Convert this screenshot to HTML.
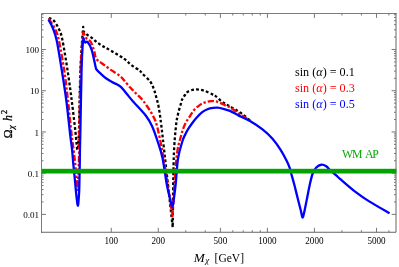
<!DOCTYPE html>
<html><head><meta charset="utf-8"><title>Relic density</title>
<style>
html,body{margin:0;padding:0;background:#fff;}
body{width:399px;height:267px;overflow:hidden;}
svg{display:block;font-family:"Liberation Serif",serif;will-change:transform;}
</style></head>
<body>
<svg width="399" height="267" viewBox="0 0 399 267">
<rect width="399" height="267" fill="#fff"/>
<g fill="none" stroke-linejoin="round">
<path d="M48.75,18.00 C49.58,18.43 52.08,18.81 53.75,20.60 C55.42,22.39 57.33,25.62 58.75,28.75 C60.17,31.88 60.79,32.19 62.30,39.40 C63.81,46.61 66.20,61.57 67.80,72.00 C69.40,82.43 70.63,92.08 71.90,102.00 C73.17,111.92 74.57,124.00 75.40,131.50 C76.23,139.00 76.52,143.92 76.90,147.00 C77.28,150.08 77.57,149.50 77.70,150.00 C77.90,147.17 78.58,141.33 78.90,133.00 C79.22,124.67 79.35,110.50 79.60,100.00 C79.85,89.50 80.03,79.17 80.40,70.00 C80.77,60.83 81.33,52.18 81.80,45.00 C82.27,37.82 82.97,29.92 83.20,26.90 C83.22,27.58 82.66,29.70 83.30,31.00 C83.94,32.30 85.68,33.60 87.05,34.70 C88.42,35.80 90.19,36.62 91.50,37.60 C92.81,38.58 93.72,39.63 94.90,40.60 C96.08,41.57 97.27,42.47 98.60,43.40 C99.93,44.33 101.40,45.30 102.90,46.20 C104.40,47.10 104.12,46.75 107.60,48.80 C111.07,50.85 119.81,55.80 123.75,58.50 C127.69,61.20 128.56,62.95 131.25,65.00 C133.94,67.05 138.03,69.34 139.90,70.80 C141.78,72.26 140.82,72.01 142.50,73.75 C144.18,75.49 148.12,78.75 150.00,81.25 C151.88,83.75 152.75,86.26 153.75,88.75 C154.75,91.24 155.17,93.08 156.00,96.20 C156.83,99.33 157.88,102.70 158.75,107.50 C159.62,112.30 160.21,116.58 161.25,125.00 C162.29,133.42 163.09,140.97 165.00,158.00 C166.91,175.03 171.42,215.67 172.70,227.20 C172.88,215.67 173.20,174.87 173.75,158.00 C174.30,141.13 175.28,133.38 176.00,126.00 C176.72,118.62 177.22,117.67 178.10,113.75 C178.97,109.83 180.52,105.00 181.25,102.50 C181.98,100.00 181.88,100.00 182.50,98.75 C183.12,97.50 184.17,96.14 185.00,95.00 C185.83,93.86 185.83,92.83 187.50,91.90 C189.17,90.97 192.29,89.62 195.00,89.40 C197.71,89.18 200.83,89.77 203.75,90.60 C206.67,91.43 210.62,93.57 212.50,94.40 C214.38,95.23 213.57,94.50 215.00,95.60 C216.43,96.70 219.33,99.62 221.10,101.00 C222.87,102.38 224.20,103.03 225.60,103.90 C227.00,104.77 227.93,105.30 229.50,106.20 C231.07,107.10 232.83,107.95 235.00,109.30 C237.17,110.65 240.00,112.45 242.50,114.30 C245.00,116.15 248.75,119.38 250.00,120.40" stroke="#000" stroke-width="2.3" stroke-dasharray="2.8 2.2"/>
<path d="M48.75,18.50 C49.89,20.42 53.91,26.33 55.60,30.00 C57.29,33.67 57.43,33.58 58.90,40.50 C60.37,47.42 62.87,61.33 64.40,71.50 C65.93,81.67 66.95,91.42 68.10,101.50 C69.25,111.58 70.15,122.00 71.30,132.00 C72.45,142.00 73.95,151.83 75.00,161.50 C76.05,171.17 77.17,185.25 77.60,190.00 C77.80,185.83 78.52,174.50 78.80,165.00 C79.08,155.50 79.12,143.83 79.30,133.00 C79.48,122.17 79.68,110.50 79.90,100.00 C80.12,89.50 80.25,79.17 80.60,70.00 C80.95,60.83 81.55,51.28 82.00,45.00 C82.45,38.72 83.08,34.42 83.30,32.30 C83.50,32.75 84.03,34.05 84.50,35.00 C84.97,35.95 85.47,37.23 86.10,38.00 C86.73,38.77 87.52,38.97 88.30,39.60 C89.08,40.23 90.08,40.68 90.80,41.80 C91.52,42.92 92.00,44.62 92.60,46.30 C93.20,47.98 93.79,49.82 94.40,51.90 C95.01,53.98 94.90,56.77 96.25,58.75 C97.60,60.73 100.12,61.94 102.50,63.75 C104.88,65.56 107.58,67.56 110.50,69.60 C113.42,71.64 117.75,74.22 120.00,76.00 C122.25,77.78 122.33,78.42 124.00,80.30 C125.67,82.18 128.50,85.63 130.00,87.30 C131.50,88.97 131.97,89.23 133.00,90.30 C134.03,91.37 135.15,92.65 136.20,93.70 C137.25,94.75 138.38,95.73 139.30,96.60 C140.22,97.47 140.54,97.50 141.70,98.90 C142.86,100.30 144.45,102.32 146.25,105.00 C148.05,107.68 150.71,111.50 152.50,115.00 C154.29,118.50 155.17,118.83 157.00,126.00 C158.83,133.17 160.92,143.00 163.50,158.00 C166.08,173.00 171.00,206.33 172.50,216.00 C173.17,206.33 175.08,171.33 176.50,158.00 C177.92,144.67 179.58,141.63 181.00,136.00 C182.42,130.37 183.58,127.38 185.00,124.20 C186.42,121.02 188.00,119.25 189.50,116.90 C191.00,114.55 192.30,112.07 194.00,110.10 C195.70,108.13 197.82,106.40 199.70,105.10 C201.58,103.80 203.43,102.97 205.30,102.30 C207.17,101.63 209.22,101.25 210.90,101.10 C212.58,100.95 213.88,101.12 215.40,101.40 C216.92,101.68 218.30,102.10 220.00,102.80 C221.70,103.50 223.93,104.85 225.60,105.60 C227.27,106.35 228.02,106.15 230.00,107.30 C231.98,108.45 234.17,110.28 237.50,112.50 C240.83,114.72 247.92,119.25 250.00,120.60" stroke="#ff0000" stroke-width="2.3" stroke-dasharray="6.3 2 2.4 2"/>
<path d="M48.50,19.75 C49.18,21.04 51.23,24.04 52.60,27.50 C53.97,30.96 55.13,33.17 56.70,40.50 C58.27,47.83 60.38,61.42 62.00,71.50 C63.62,81.58 65.07,90.75 66.40,101.00 C67.73,111.25 69.05,124.83 70.00,133.00 C70.95,141.17 71.53,144.67 72.10,150.00 C72.67,155.33 72.93,160.00 73.40,165.00 C73.87,170.00 74.47,175.50 74.90,180.00 C75.33,184.50 75.67,188.67 76.00,192.00 C76.33,195.33 76.65,197.90 76.90,200.00 C77.15,202.10 77.34,203.63 77.50,204.60 C77.66,205.57 77.73,205.80 77.85,205.80 C77.97,205.80 78.08,205.57 78.20,204.60 C78.33,203.63 78.44,202.10 78.60,200.00 C78.76,197.90 79.01,195.33 79.15,192.00 C79.29,188.67 79.35,184.50 79.45,180.00 C79.55,175.50 79.67,170.00 79.75,165.00 C79.83,160.00 79.85,155.33 79.95,150.00 C80.05,144.67 80.18,141.33 80.35,133.00 C80.52,124.67 80.75,110.50 80.95,100.00 C81.15,89.50 81.28,79.00 81.55,70.00 C81.82,61.00 82.27,51.32 82.60,46.00 C82.92,40.68 83.35,39.42 83.50,38.10 C83.75,38.83 84.33,41.87 85.00,42.50 C85.67,43.13 86.42,40.77 87.50,41.90 C88.58,43.03 90.35,46.07 91.50,49.30 C92.65,52.52 93.73,58.38 94.40,61.25 C95.07,64.12 95.22,65.21 95.50,66.50 C95.78,67.79 96.00,68.58 96.10,69.00 C96.35,69.30 96.93,70.10 97.60,70.80 C98.27,71.50 98.77,72.00 100.10,73.20 C101.43,74.40 103.62,76.53 105.60,78.00 C107.58,79.47 110.15,80.95 112.00,82.00 C113.85,83.05 115.28,83.52 116.70,84.30 C118.12,85.08 119.33,85.75 120.50,86.70 C121.67,87.65 122.53,88.65 123.70,90.00 C124.87,91.35 125.93,92.87 127.50,94.80 C129.07,96.73 131.43,99.69 133.10,101.60 C134.77,103.51 135.31,103.81 137.50,106.25 C139.69,108.69 143.83,112.96 146.25,116.25 C148.67,119.54 150.12,121.88 152.00,126.00 C153.88,130.12 155.75,135.67 157.50,141.00 C159.25,146.33 160.93,150.67 162.50,158.00 C164.07,165.33 165.55,177.83 166.90,185.00 C168.25,192.17 169.78,197.50 170.60,201.00 C171.42,204.50 171.53,204.98 171.80,206.00 C172.08,207.02 172.10,207.10 172.25,207.10 C172.40,207.10 172.47,207.02 172.70,206.00 C172.92,204.98 173.12,204.50 173.60,201.00 C174.08,197.50 174.85,192.17 175.60,185.00 C176.35,177.83 176.95,165.33 178.10,158.00 C179.25,150.67 181.27,145.00 182.50,141.00 C183.73,137.00 184.52,136.05 185.50,134.00 C186.48,131.95 187.35,130.42 188.40,128.70 C189.45,126.98 190.48,125.48 191.80,123.70 C193.12,121.92 194.62,119.88 196.30,118.00 C197.98,116.12 200.03,113.87 201.90,112.40 C203.77,110.93 205.62,109.95 207.50,109.20 C209.38,108.45 211.50,108.15 213.20,107.90 C214.90,107.65 216.02,107.55 217.70,107.70 C219.38,107.85 221.25,108.27 223.30,108.80 C225.35,109.33 227.43,109.77 230.00,110.90 C232.57,112.03 235.42,113.92 238.75,115.60 C242.08,117.28 246.04,118.70 250.00,121.00 C253.96,123.30 258.75,126.45 262.50,129.40 C266.25,132.35 269.53,135.37 272.50,138.70 C275.47,142.03 277.90,145.64 280.30,149.40 C282.70,153.16 285.28,158.03 286.90,161.25 C288.52,164.47 289.27,166.67 290.00,168.75 C290.73,170.83 290.52,171.04 291.25,173.75 C291.98,176.46 293.36,181.04 294.40,185.00 C295.44,188.96 296.45,193.33 297.50,197.50 C298.55,201.67 299.95,206.88 300.70,210.00 C301.45,213.12 301.68,214.92 302.00,216.20 C302.32,217.48 302.38,217.70 302.60,217.70 C302.82,217.70 302.95,217.48 303.30,216.20 C303.65,214.92 304.05,213.12 304.70,210.00 C305.35,206.88 306.37,201.67 307.20,197.50 C308.03,193.33 308.80,188.96 309.70,185.00 C310.60,181.04 311.51,176.67 312.60,173.75 C313.69,170.83 314.81,169.00 316.25,167.50 C317.69,166.00 319.58,164.96 321.25,164.75 C322.92,164.54 324.79,165.38 326.25,166.25 C327.71,167.12 328.33,168.47 330.00,170.00 C331.67,171.53 334.58,173.93 336.25,175.40 C337.92,176.87 336.91,176.15 340.00,178.80 C343.09,181.45 349.87,187.50 354.80,191.30 C359.73,195.10 363.80,197.95 369.60,201.60 C375.40,205.25 386.27,211.27 389.60,213.20" stroke="#0000ff" stroke-width="2.3"/>
</g>
<g fill="none" stroke="#7c7c7c" stroke-width="1">
<path d="M41.5,232.75V13.5H396.5"/><path d="M41.0,232.25H396.0V13.0" stroke="#666666"/>
<path d="M111.25,232.25L111.25,227.85M111.25,13.50L111.25,17.90M158.26,232.25L158.26,227.85M158.26,13.50L158.26,17.90M185.75,232.25L185.75,230.25M185.75,13.50L185.75,15.50M205.26,232.25L205.26,230.25M205.26,13.50L205.26,15.50M220.39,232.25L220.39,227.85M220.39,13.50L220.39,17.90M232.76,232.25L232.76,230.25M232.76,13.50L232.76,15.50M243.21,232.25L243.21,230.25M243.21,13.50L243.21,15.50M252.27,232.25L252.27,230.25M252.27,13.50L252.27,15.50M260.25,232.25L260.25,230.25M260.25,13.50L260.25,15.50M267.40,232.25L267.40,227.85M267.40,13.50L267.40,17.90M314.41,232.25L314.41,227.85M314.41,13.50L314.41,17.90M341.90,232.25L341.90,230.25M341.90,13.50L341.90,15.50M361.41,232.25L361.41,230.25M361.41,13.50L361.41,15.50M376.54,232.25L376.54,227.85M376.54,13.50L376.54,17.90M388.91,232.25L388.91,230.25M388.91,13.50L388.91,15.50M41.50,214.38L45.90,214.38M396.00,214.38L391.60,214.38M41.50,201.97L43.50,201.97M396.00,201.97L394.00,201.97M41.50,194.71L43.50,194.71M396.00,194.71L394.00,194.71M41.50,189.56L43.50,189.56M396.00,189.56L394.00,189.56M41.50,185.57L43.50,185.57M396.00,185.57L394.00,185.57M41.50,182.30L43.50,182.30M396.00,182.30L394.00,182.30M41.50,179.55L43.50,179.55M396.00,179.55L394.00,179.55M41.50,177.15L43.50,177.15M396.00,177.15L394.00,177.15M41.50,175.05L43.50,175.05M396.00,175.05L394.00,175.05M41.50,173.16L45.90,173.16M396.00,173.16L391.60,173.16M41.50,160.75L43.50,160.75M396.00,160.75L394.00,160.75M41.50,153.49L43.50,153.49M396.00,153.49L394.00,153.49M41.50,148.34L43.50,148.34M396.00,148.34L394.00,148.34M41.50,144.35L43.50,144.35M396.00,144.35L394.00,144.35M41.50,141.08L43.50,141.08M396.00,141.08L394.00,141.08M41.50,138.33L43.50,138.33M396.00,138.33L394.00,138.33M41.50,135.93L43.50,135.93M396.00,135.93L394.00,135.93M41.50,133.83L43.50,133.83M396.00,133.83L394.00,133.83M41.50,131.94L45.90,131.94M396.00,131.94L391.60,131.94M41.50,119.53L43.50,119.53M396.00,119.53L394.00,119.53M41.50,112.27L43.50,112.27M396.00,112.27L394.00,112.27M41.50,107.12L43.50,107.12M396.00,107.12L394.00,107.12M41.50,103.13L43.50,103.13M396.00,103.13L394.00,103.13M41.50,99.86L43.50,99.86M396.00,99.86L394.00,99.86M41.50,97.11L43.50,97.11M396.00,97.11L394.00,97.11M41.50,94.71L43.50,94.71M396.00,94.71L394.00,94.71M41.50,92.61L43.50,92.61M396.00,92.61L394.00,92.61M41.50,90.72L45.90,90.72M396.00,90.72L391.60,90.72M41.50,78.31L43.50,78.31M396.00,78.31L394.00,78.31M41.50,71.05L43.50,71.05M396.00,71.05L394.00,71.05M41.50,65.90L43.50,65.90M396.00,65.90L394.00,65.90M41.50,61.91L43.50,61.91M396.00,61.91L394.00,61.91M41.50,58.64L43.50,58.64M396.00,58.64L394.00,58.64M41.50,55.89L43.50,55.89M396.00,55.89L394.00,55.89M41.50,53.49L43.50,53.49M396.00,53.49L394.00,53.49M41.50,51.39L43.50,51.39M396.00,51.39L394.00,51.39M41.50,49.50L45.90,49.50M396.00,49.50L391.60,49.50M41.50,37.09L43.50,37.09M396.00,37.09L394.00,37.09M41.50,29.83L43.50,29.83M396.00,29.83L394.00,29.83M41.50,24.68L43.50,24.68M396.00,24.68L394.00,24.68M41.50,20.69L43.50,20.69M396.00,20.69L394.00,20.69M41.50,17.42L43.50,17.42M396.00,17.42L394.00,17.42M41.50,14.67L43.50,14.67M396.00,14.67L394.00,14.67" stroke-width="1.0" stroke="#767676"/>
</g>
<rect x="41.75" y="168.8" width="354.6" height="4.7" fill="#02a402"/>
<g font-size="9.1" fill="#000"><text transform="translate(111.25,244.0) scale(1,1.08)" text-anchor="middle">100</text><text transform="translate(158.26,244.0) scale(1,1.08)" text-anchor="middle">200</text><text transform="translate(220.39,244.0) scale(1,1.08)" text-anchor="middle">500</text><text transform="translate(267.40,244.0) scale(1,1.08)" text-anchor="middle">1000</text><text transform="translate(314.41,244.0) scale(1,1.08)" text-anchor="middle">2000</text><text transform="translate(376.54,244.0) scale(1,1.08)" text-anchor="middle">5000</text><text transform="translate(39.1,52.70) scale(1,1.02)" text-anchor="end">100</text><text transform="translate(39.1,93.92) scale(1,1.02)" text-anchor="end">10</text><text transform="translate(39.1,135.74) scale(1,1.02)" text-anchor="end">1</text><text transform="translate(39.1,177.01) scale(1,1.02)" text-anchor="end">0.1</text><text transform="translate(39.1,217.68) scale(1,1.02)" text-anchor="end">0.01</text></g>
<g font-size="12.15">
<text x="295" y="75.5" fill="#000">sin (<tspan font-style="italic">α</tspan>) = 0.1</text>
<text x="295" y="91.7" fill="#ff0000">sin (<tspan font-style="italic">α</tspan>) = 0.3</text>
<text x="295" y="107.5" fill="#0000ff">sin (<tspan font-style="italic">α</tspan>) = 0.5</text>
</g>
<text y="157.5" font-size="11.8" fill="#0aa80a" x="341.9 352.0 365.0 372.3">WMAP</text>
<g fill="#000">
<text font-size="11.5" font-style="italic" transform="translate(193.7,262) scale(1.15,1)">M</text>
<text font-size="9.0" font-style="italic" x="205.3" y="263.4">χ</text>
<text font-size="11.5" x="214.6" y="262">[GeV]</text>
<g transform="translate(11.6,138.2) rotate(-90)" stroke="#000" stroke-width="0.25">
<text font-size="11.8" x="0" y="0">Ω</text>
<text font-size="9.0" font-style="italic" x="9.0" y="2.2">χ</text>
<text font-size="11.8" font-style="italic" x="17.1" y="0">h</text>
<text font-size="8.3" x="24.2" y="-4.7">2</text>
</g>
</g>
</svg>
</body></html>
